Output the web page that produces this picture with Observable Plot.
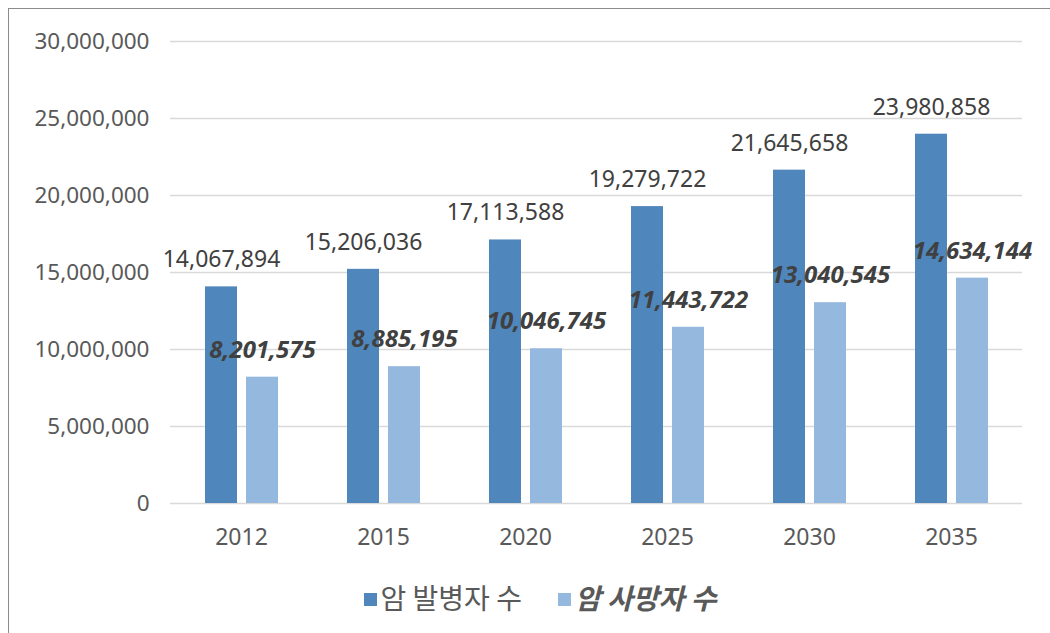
<!DOCTYPE html>
<html><head><meta charset="utf-8">
<script src="https://cdn.jsdelivr.net/npm/d3@7"></script>
<script src="https://cdn.jsdelivr.net/npm/@observablehq/plot@0.6"></script>
<style>
body{margin:0;background:#fff;font-family:"Noto Sans","Noto Sans CJK KR",sans-serif;}
#frame{position:absolute;left:8px;top:8px;width:1100px;height:700px;border:1.5px solid #8c8c8c;box-sizing:border-box;}
#chart{position:absolute;left:0;top:0;}
#legend{position:absolute;left:0;top:577px;width:1080px;text-align:center;font-size:28px;color:#595959;font-family:"Noto Sans CJK KR","Noto Sans",sans-serif;}
.sw{display:inline-block;width:13px;height:13px;margin-right:4px;vertical-align:middle;position:relative;top:-2px}
.item{display:inline-block;margin:0 18px;}
</style></head><body>
<div id="frame"></div>
<div id="chart"></div>
<div id="legend"></div>
<script>
const years = ["2012","2015","2020","2025","2030","2035"];
const incidence = [14067894,15206036,17113588,19279722,21645658,23980858];
const deaths = [8201575,8885195,10046745,11443722,13040545,14634144];
const seriesNames = ["암 발병자 수","암 사망자 수"];
const colors = ["#4F86BC","#95B8DF"];

const data = [];
years.forEach((y,i)=>{
  data.push({year:y, series:seriesNames[0], value:incidence[i]});
  data.push({year:y, series:seriesNames[1], value:deaths[i]});
});
const fmt = d3.format(",");
const plot = Plot.plot({
  width:1050, height:553,
  marginLeft:168, marginRight:27, marginTop:41, marginBottom:50,
  style:{fontFamily:"Noto Sans, sans-serif", fontSize:"22px", color:"#595959", background:"transparent"},
  fx:{domain:years, padding:0, label:null, axis:"bottom", tickSize:0, tickPadding:25},
  x:{domain:seriesNames, paddingInner:0.22, paddingOuter:0.84, axis:null},
  y:{domain:[0,30000000], ticks:[0,5e6,10e6,15e6,20e6,25e6,30e6], tickFormat:fmt, label:null, tickSize:0, tickPadding:21},
  color:{domain:seriesNames, range:colors},
  marks:[
    Plot.ruleY([5e6,10e6,15e6,20e6,25e6,30e6], {stroke:"#d9d9d9", strokeWidth:1.5}),
    Plot.ruleY([0], {stroke:"#d9d9d9", strokeWidth:1.5}),
    Plot.barY(data, {fx:"year", x:"series", y:"value", fill:"series"}),
    Plot.text(data.filter(d=>d.series===seriesNames[0]), {fx:"year", x:"series", y:"value", text:d=>fmt(d.value), dy:-27, fill:"#404040", fontSize:23}),
    Plot.text(data.filter(d=>d.series===seriesNames[1]), {fx:"year", x:"series", y:"value", text:d=>fmt(d.value), dy:-27, fill:"#404040", fontSize:24, fontWeight:"bold", fontStyle:"italic"})
  ]
});
plot.querySelectorAll('[aria-label="fx-axis tick label"] text, [aria-label="fx-axis tick label"]').forEach(t=>t.setAttribute("font-size","23"));
plot.querySelectorAll('[aria-label="y-axis tick label"]').forEach(t=>t.setAttribute("font-size","22.5"));
document.getElementById("chart").appendChild(plot);
const lg = document.getElementById("legend");
seriesNames.forEach((n,i)=>{
  const s = document.createElement("span"); s.className="item";
  s.innerHTML = `<span class="sw" style="background:${colors[i]}"></span>` + (i===1?`<b><i>${n}</i></b>`:n);
  lg.appendChild(s);
});
</script>
</body></html>
